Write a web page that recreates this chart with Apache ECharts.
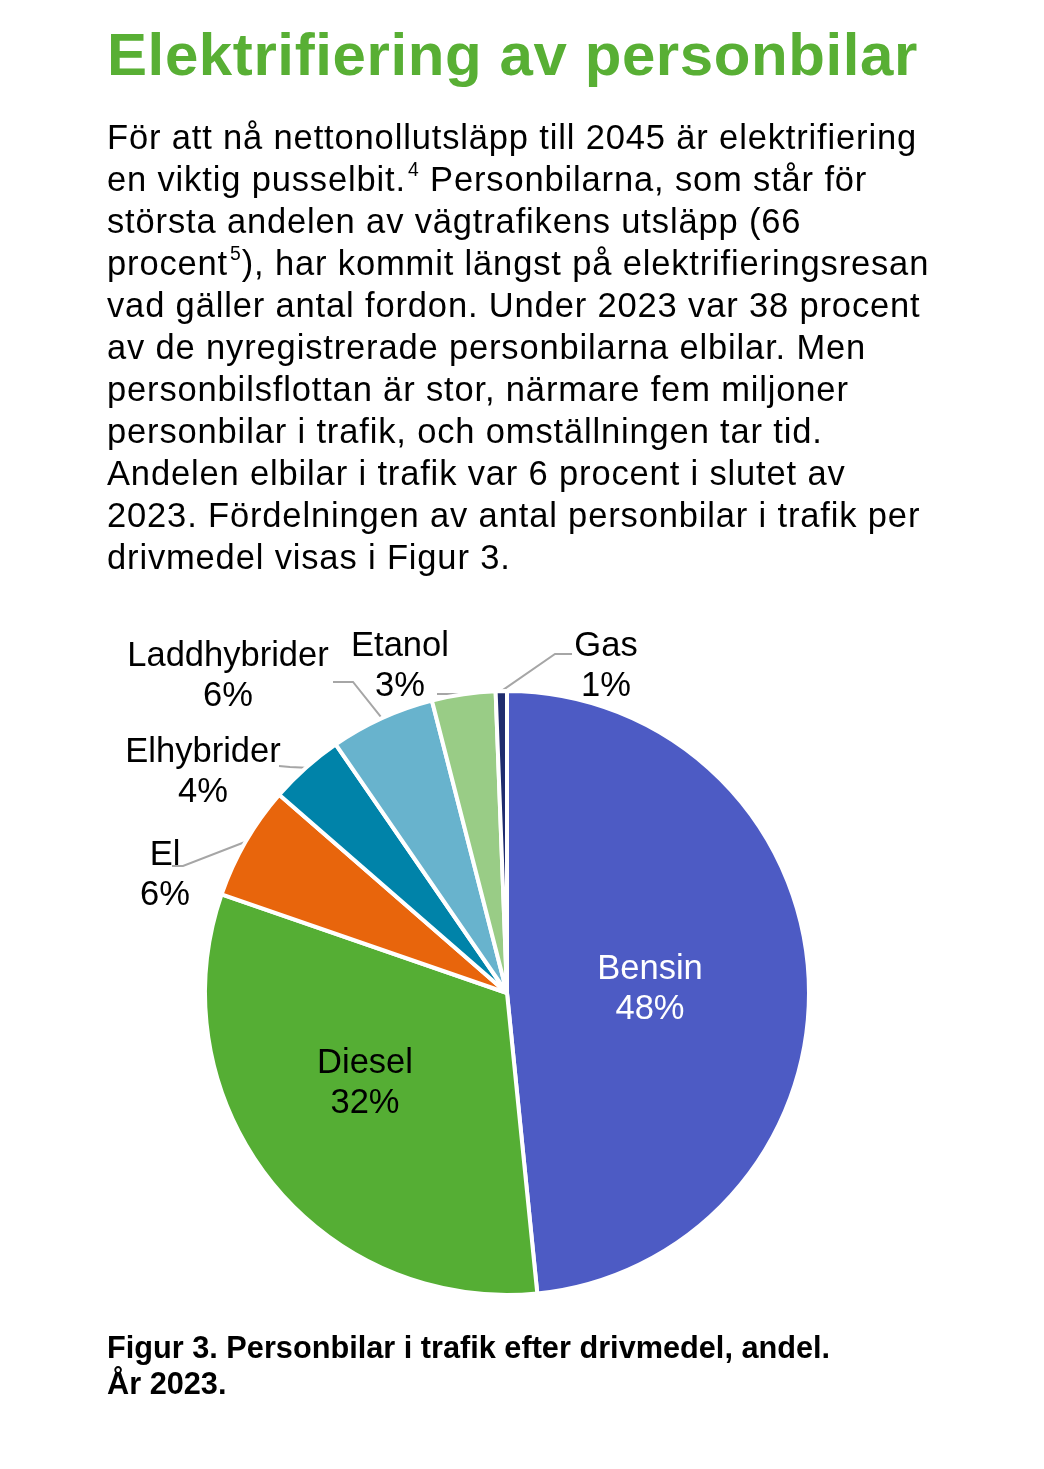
<!DOCTYPE html>
<html>
<head>
<meta charset="utf-8">
<script src="https://cdn.jsdelivr.net/npm/echarts@6/dist/echarts.min.js"></script>
<style>
  html, body { margin:0; padding:0; background:#fff; }
  body { width:1044px; height:1469px; position:relative; overflow:hidden; font-family:"Liberation Sans", Arial, sans-serif; color:#000; }
  #chart { position:absolute; left:0; top:0; width:1044px; height:1469px; }
  .txt { position:absolute; left:107px; white-space:nowrap; pointer-events:none; }
  #title { top:20px; font-size:60px; line-height:70px; font-weight:bold; color:#58AF34; letter-spacing:0.6px; }
  #para { top:116px; font-size:34.5px; line-height:42px; letter-spacing:0.85px; }
  #para sup { font-size:0.56em; line-height:0; vertical-align:0; position:relative; top:-0.78em; letter-spacing:0; margin:0 1px 0 2px; }
  #caption { top:1330px; font-size:31px; line-height:36px; font-weight:bold; transform:scaleX(0.99); transform-origin:0 0; }
</style>
</head>
<body>
<div id="chart"></div>
<div class="txt" id="title">Elektrifiering av personbilar</div>
<div class="txt" id="para">För att nå nettonollutsläpp till 2045 är elektrifiering<br>en viktig pusselbit.<sup>4</sup> Personbilarna, som står för<br>största andelen av vägtrafikens utsläpp (66<br>procent<sup>5</sup>), har kommit längst på elektrifieringsresan<br>vad gäller antal fordon. Under 2023 var 38 procent<br>av de nyregistrerade personbilarna elbilar. Men<br>personbilsflottan är stor, närmare fem miljoner<br>personbilar i trafik, och omställningen tar tid.<br>Andelen elbilar i trafik var 6 procent i slutet av<br>2023. Fördelningen av antal personbilar i trafik per<br>drivmedel visas i Figur 3.</div>
<div class="txt" id="caption">Figur 3. Personbilar i trafik efter drivmedel, andel.<br>År 2023.</div>
<script>
// Data (share of passenger cars in traffic by fuel, 2023, percent)
var categories = ['Bensin', 'Diesel', 'El', 'Elhybrider', 'Laddhybrider', 'Etanol', 'Gas'];
var shares = [48.4, 31.9, 6.1, 4.0, 5.6, 3.4, 0.6];
var colors = ['#4D5BC4', '#55AE34', '#E8650C', '#0083A9', '#68B3CD', '#99CC86', '#1F2C6E'];

// Label placement (layout only)
var labelPlace = [
  { x: 650, y: 989 },
  { x: 365, y: 1083 },
  { x: 165, y: 875, line: [[183, 866], [172, 866]] },
  { x: 203, y: 772, line: [[290, 767], [279, 766]] },
  { x: 228, y: 676, line: [[353, 682], [333, 682]] },
  { x: 400, y: 666, line: [[452, 694], [437, 694]] },
  { x: 606, y: 666, line: [[555, 654], [572, 654]] }
];

var data = categories.map(function (c, i) {
  var d = { name: c, value: shares[i], itemStyle: { color: colors[i] } };
  if (i < 2) {
    d.label = { position: 'inside', color: i === 0 ? '#ffffff' : '#000000' };
    d.labelLine = { show: false };
  }
  return d;
});

var chart = echarts.init(document.getElementById('chart'), null, { renderer: 'canvas' });
chart.setOption({
  animation: false,
  series: [{
    type: 'pie',
    center: [507, 993],
    radius: 302,
    startAngle: 90,
    clockwise: true,
    avoidLabelOverlap: false,
    itemStyle: { borderColor: '#ffffff', borderWidth: 4 },
    label: {
      show: true,
      position: 'outside',
      fontFamily: 'Liberation Sans, Arial, sans-serif',
      fontSize: 34.5,
      lineHeight: 40,
      color: '#000000',
      align: 'center',
      formatter: function (p) { return p.name + '\n' + Math.round(p.percent) + '%'; }
    },
    labelLine: { show: true, length: 20, length2: 15, lineStyle: { color: '#A6A6A6', width: 2 } },
    labelLayout: function (params) {
      var s = labelPlace[params.dataIndex];
      var out = { x: s.x, y: s.y, align: 'center', verticalAlign: 'middle' };
      if (s.line && params.labelLinePoints) {
        out.labelLinePoints = [params.labelLinePoints[0], s.line[0], s.line[1]];
      }
      return out;
    },
    data: data
  }]
});
</script>
</body>
</html>
